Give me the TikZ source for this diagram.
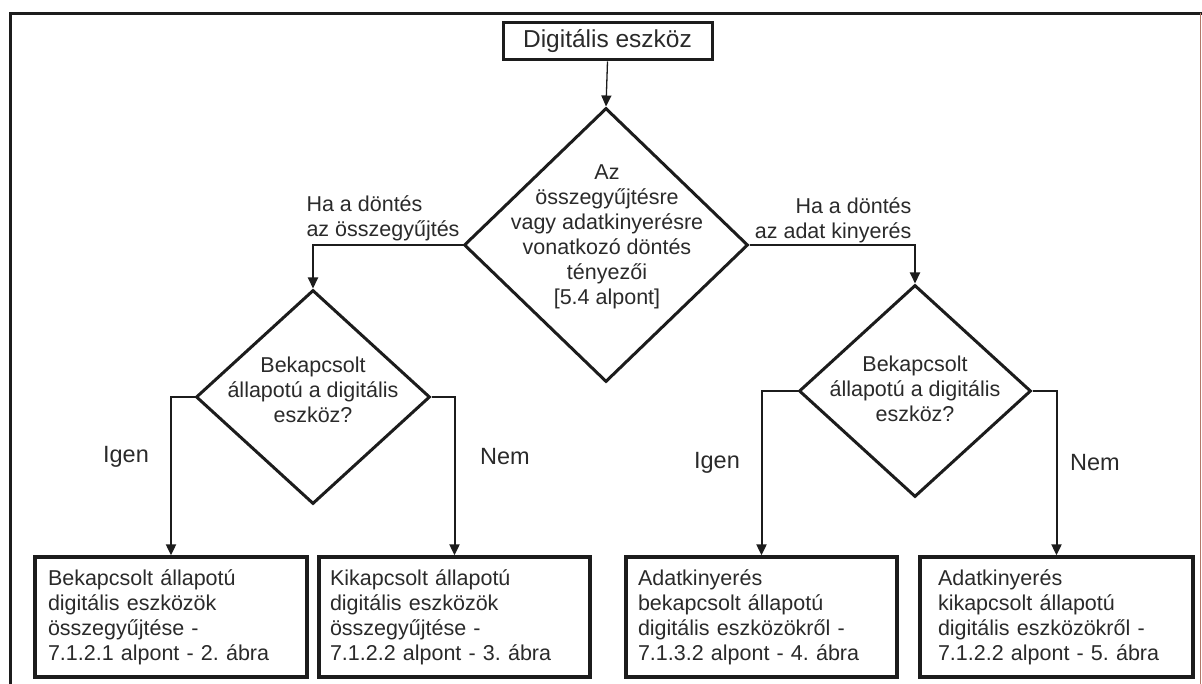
\documentclass[tikz,border=0pt]{standalone}
\usepackage{fontspec}
\setmainfont{Liberation Sans}
\usetikzlibrary{shapes.geometric,arrows.meta}
\definecolor{linec}{HTML}{1C1C1C}
\definecolor{textc}{HTML}{2A2A2A}
\definecolor{edgec}{HTML}{B07868}
\frenchspacing
\begin{document}
\begin{tikzpicture}[x=1pt,y=-1pt,
  body/.style={font=\fontsize{21.5}{25}\selectfont\frenchspacing, text=textc},
  lbl/.style={font=\fontsize{23.5}{27}\selectfont, text=textc},
  decision/.style={diamond, draw=linec, line width=3pt, inner sep=0pt},
  resultbox/.style={draw=linec, line width=3.3pt, align=left, body, minimum height=120pt, inner ysep=0pt},
  conn/.style={draw=linec, line width=2pt, -{Triangle[length=11pt,width=10pt]}}
]
\useasboundingbox (0,0) rectangle (1202,684);
% frame
\draw[linec, line width=3pt] (10.5,690) -- (10.5,13.5) -- (1205,13.5);
\draw[edgec, line width=1pt] (1200,13.5) -- (1200,690);

% start box
\node[draw=linec, line width=3pt, minimum width=209pt, minimum height=37pt, inner sep=0pt,
      font=\fontsize{24.5}{28}\selectfont, text=textc] (start) at (607.5,41.5) {Digitális eszköz};

% main decision
\node[decision, minimum width=284pt, minimum height=274pt] (d0) at (606,245) {};
\node[body, align=center] (d0t) at (607,237) {Az\\összegyűjtésre\\vagy adatkinyerésre\\vonatkozó döntés\\tényezői\\{[}5.4 alpont{]}};

% sub decisions
\node[decision, minimum width=234pt, minimum height=214pt] (d1) at (313,397) {};
\node[body, align=center] (d1t) at (313,390) {Bekapcsolt\\állapotú a digitális\\eszköz?};
\node[decision, minimum width=232pt, minimum height=212pt] (d2) at (915,391) {};
\node[body, align=center] (d2t) at (915,389) {Bekapcsolt\\állapotú a digitális\\eszköz?};

% result boxes
\node[resultbox, inner xsep=13pt, text width=246pt] (b1) at (171,617)
  {Bekapcsolt állapotú\\digitális eszközök\\összegyűjtése -\\7.1.2.1 alpont - 2. ábra};
\node[resultbox, inner xsep=11pt, text width=249pt] (b2) at (454.5,617)
  {Kikapcsolt állapotú\\digitális eszközök\\összegyűjtése -\\7.1.2.2 alpont - 3. ábra};
\node[resultbox, inner xsep=12pt, text width=247pt] (b3) at (761.5,617)
  {Adatkinyerés\\bekapcsolt állapotú\\digitális eszközökről -\\7.1.3.2 alpont - 4. ábra};
\node[resultbox, inner xsep=18pt, text width=237pt] (b4) at (1056.5,617)
  {Adatkinyerés\\kikapcsolt állapotú\\digitális eszközökről -\\7.1.2.2 alpont - 5. ábra};

% connectors
\draw[conn, line width=1.3pt] (start.south) -- (d0.north);
\draw[conn] (d0.west) -| (d1.north);
\draw[conn] (d0.east) -| (d2.north);
\draw[conn] (d1.west) -| (b1.north);
\draw[conn] (d1.east) -| (b2.north);
\draw[conn] (d2.west) -| (b3.north);
\draw[conn] (d2.east) -| (b4.north);

% labels
\node[body, align=left, anchor=west] (lhl) at (303,218) {Ha a döntés\\az összegyűjtés};
\node[body, align=right, anchor=east] (lhr) at (915,220) {Ha a döntés\\az adat kinyerés};
\node[lbl] (ig1) at (126,457) {Igen};
\node[lbl] (nm1) at (505,457) {Nem};
\node[lbl] (ig2) at (717,463) {Igen};
\node[lbl] (nm2) at (1095,463) {Nem};
\end{tikzpicture}
\end{document}
